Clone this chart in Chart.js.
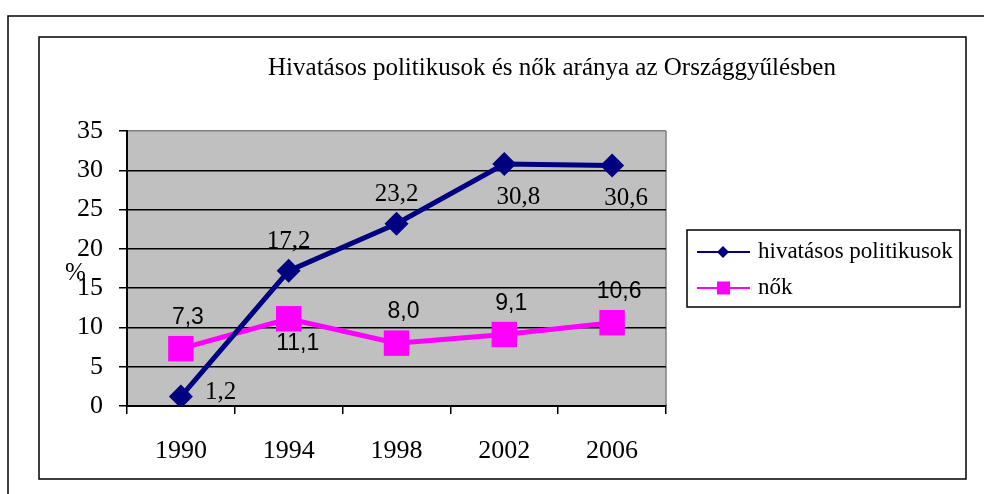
<!DOCTYPE html>
<html>
<head>
<meta charset="utf-8">
<script src="https://cdn.jsdelivr.net/npm/chart.js@4"></script>
<style>
html, body { margin: 0; padding: 0; background: #fff; }
#wrap { width: 984px; height: 494px; }
</style>
</head>
<body>
<div id="wrap"><canvas id="chart" width="984" height="494"></canvas></div>
<script>
var years = ['1990', '1994', '1998', '2002', '2006'];
var politicians = [1.2, 17.2, 23.2, 30.8, 30.6];
var women = [7.3, 11.1, 8.0, 9.1, 10.6];
var yTicks = [0, 5, 10, 15, 20, 25, 30, 35];

// where each value label sits next to its point
var politiciansPlace = ['right', 'above', 'above', 'below', 'below'];
var womenPlace = ['above', 'below', 'above', 'above', 'above'];

var SERIF = '"Liberation Serif", "Times New Roman", serif';
var SANS = '"Liberation Sans", Arial, sans-serif';

function fmt(v) {
    return v.toFixed(1).replace('.', ',');
}

var framePlugin = {
    id: 'frames',
    beforeDraw: function (chart) {
        var ctx = chart.ctx, a = chart.chartArea;
        ctx.save();
        ctx.fillStyle = '#fff';
        ctx.fillRect(0, 0, chart.width, chart.height);
        ctx.strokeStyle = '#000';
        ctx.lineWidth = 1.5;
        // outer frame (top + left only visible)
        ctx.beginPath();
        ctx.moveTo(984, 16);
        ctx.lineTo(8, 16);
        ctx.lineTo(8, 494);
        ctx.stroke();
        // chart frame
        ctx.strokeRect(39, 37, 927, 442);
        // plot area
        ctx.fillStyle = '#c0c0c0';
        ctx.fillRect(a.left, a.top, a.right - a.left, a.bottom - a.top);
        ctx.strokeStyle = '#808080';
        ctx.lineWidth = 1.5;
        ctx.beginPath();
        ctx.moveTo(a.right, a.top);
        ctx.lineTo(a.right, a.bottom);
        ctx.stroke();
        ctx.restore();
    },
    afterDraw: function (chart) {
        var ctx = chart.ctx;
        ctx.save();
        // title
        ctx.fillStyle = '#000';
        ctx.font = '25px ' + SERIF;
        ctx.textAlign = 'center';
        ctx.textBaseline = 'alphabetic';
        ctx.fillText('Hivatásos politikusok és nők aránya az Országgyűlésben', 552, 75, 582);
        // y axis title
        ctx.textAlign = 'left';
        ctx.fillText('%', 65, 280);

        // value labels
        var m0 = chart.getDatasetMeta(0).data;
        var m1 = chart.getDatasetMeta(1).data;
        ctx.textBaseline = 'middle';
        ctx.font = '25px ' + SERIF;
        m0.forEach(function (p, i) {
            var t = fmt(politicians[i]);
            var pl = politiciansPlace[i];
            if (pl === 'right') {
                ctx.textAlign = 'left';
                ctx.fillText(t, p.x + 24, p.y - 4);
            } else if (pl === 'above') {
                ctx.textAlign = 'center';
                ctx.fillText(t, p.x, p.y - 29);
            } else {
                ctx.textAlign = 'center';
                ctx.fillText(t, p.x + 14, p.y + 33);
            }
        });
        ctx.font = '23px ' + SANS;
        ctx.textAlign = 'center';
        m1.forEach(function (p, i) {
            var t = fmt(women[i]);
            if (womenPlace[i] === 'above') {
                ctx.fillText(t, p.x + 7, p.y - 31);
            } else {
                ctx.fillText(t, p.x + 9, p.y + 25);
            }
        });

        // legend
        ctx.strokeStyle = '#000';
        ctx.lineWidth = 1.5;
        ctx.strokeRect(687, 230, 273, 77);
        var rows = [252, 288];
        chart.data.datasets.forEach(function (ds, i) {
            var y = rows[i];
            ctx.strokeStyle = ds.borderColor;
            ctx.lineWidth = 2;
            ctx.beginPath();
            ctx.moveTo(697, y);
            ctx.lineTo(750, y);
            ctx.stroke();
            ctx.fillStyle = ds.borderColor;
            ctx.beginPath();
            if (ds.pointStyle === 'rectRot') {
                ctx.moveTo(723, y - 6);
                ctx.lineTo(729, y);
                ctx.lineTo(723, y + 6);
                ctx.lineTo(717, y);
                ctx.closePath();
            } else {
                ctx.rect(717, y - 6.5, 13, 13);
            }
            ctx.fill();
            ctx.fillStyle = '#000';
            ctx.font = '23px ' + SERIF;
            ctx.textAlign = 'left';
            ctx.textBaseline = 'middle';
            ctx.fillText(ds.label, 758, y);
        });
        ctx.restore();
    }
};

var ctx = document.getElementById('chart').getContext('2d');
new Chart(ctx, {
    type: 'line',
    data: {
        labels: years,
        datasets: [{
            label: 'hivatásos politikusok',
            data: politicians,
            borderColor: '#000080',
            backgroundColor: '#000080',
            borderWidth: 5,
            pointStyle: 'rectRot',
            pointRadius: 12,
            pointBorderWidth: 0,
            tension: 0
        }, {
            label: 'nők',
            data: women,
            borderColor: '#ff00ff',
            backgroundColor: '#ff00ff',
            borderWidth: 5,
            pointStyle: 'rect',
            pointRadius: 18,
            pointBorderWidth: 0,
            tension: 0
        }]
    },
    options: {
        responsive: false,
        animation: false,
        devicePixelRatio: 1,
        layout: { padding: { top: 131, right: 318, left: 0, bottom: 0 } },
        plugins: {
            legend: { display: false },
            title: { display: false },
            tooltip: { enabled: false }
        },
        scales: {
            x: {
                offset: true,
                afterFit: function (s) { s.height = 88; },
                grid: {
                    offset: true,
                    drawOnChartArea: false,
                    drawTicks: true,
                    tickLength: 8,
                    color: '#000',
                    tickColor: '#000',
                    lineWidth: 1.5
                },
                border: { color: '#000', width: 2 },
                ticks: {
                    color: '#000',
                    font: { family: SERIF, size: 26 },
                    padding: 22,
                    maxRotation: 0
                }
            },
            y: {
                min: 0,
                max: 35,
                afterFit: function (s) { s.width = 127; },
                afterBuildTicks: function (s) {
                    s.ticks = yTicks.map(function (v) { return { value: v }; });
                },
                grid: {
                    color: function (c) {
                        return c.tick && c.tick.value === 35 ? '#808080' : '#000';
                    },
                    tickColor: '#000',
                    lineWidth: 1.5,
                    tickLength: 8
                },
                border: { color: '#000', width: 2 },
                ticks: {
                    color: '#000',
                    font: { family: SERIF, size: 26 },
                    padding: 16
                }
            }
        }
    },
    plugins: [framePlugin]
});
</script>
</body>
</html>
